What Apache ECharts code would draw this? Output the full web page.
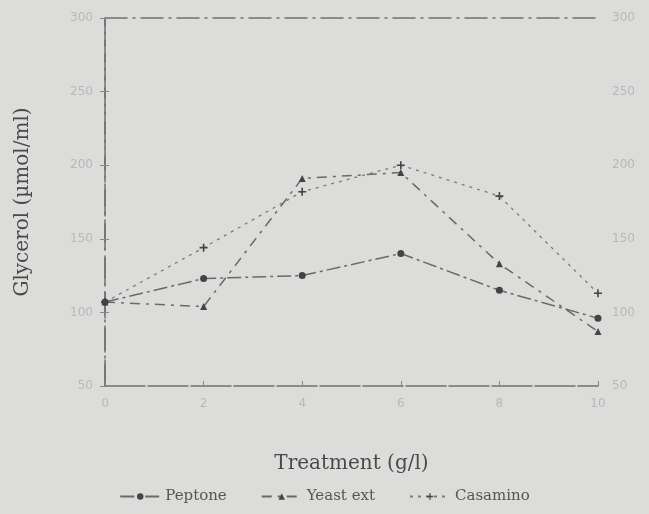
<!DOCTYPE html>
<html>
<head>
<meta charset="utf-8">
<script src="https://cdn.jsdelivr.net/npm/echarts@6/dist/echarts.min.js"></script>
<style>
  html, body { margin: 0; padding: 0; background: #dcdcdb; }
  #chart { width: 649px; height: 514px; }
</style>
</head>
<body>
<div id="chart"></div>
<script>
const treatment = [0, 2, 4, 6, 8, 10]
const peptone = [107, 123, 125, 140, 115, 96]
const yeastExt = [107, 104, 191, 195, 133, 87]
const casamino = [107, 144, 182, 200, 179, 113]

const plusIcon = 'path://M4,0H6V4H10V6H6V10H4V6H0V4H4Z'
const pairs = arr => arr.map((v, i) => [treatment[i], v])

const chart = echarts.init(document.getElementById('chart'))

const axisText = { color: '#b8b8b8', fontSize: 12, fontFamily: 'DejaVu Sans' }
const frameLine = { color: '#707070', width: 1.5, type: [22, 6, 2, 6] }
const titleText = { color: '#4a4a4a', fontSize: 20, fontFamily: 'DejaVu Serif' }

chart.setOption({
  backgroundColor: '#dcdcdb',
  animation: false,
  grid: { left: 105, right: 51, top: 18, bottom: 128 },
  legend: {
    bottom: 5,
    left: 'center',
    itemWidth: 40,
    itemHeight: 8,
    itemGap: 34,
    textStyle: { color: '#555', fontSize: 15, fontFamily: 'DejaVu Serif' },
    data: ['Peptone', 'Yeast ext', 'Casamino'],
  },
  xAxis: [
    {
      type: 'value',
      min: 0,
      max: 10,
      interval: 2,
      name: 'Treatment (g/l)',
      nameLocation: 'middle',
      nameGap: 68,
      nameTextStyle: titleText,
      axisLine: { show: true, lineStyle: { color: '#707070', width: 1.5, type: [40, 3] } },
      axisTick: { show: true, inside: true, length: 5, lineStyle: { color: '#888' } },
      axisLabel: Object.assign({ margin: 12 }, axisText),
      splitLine: { show: false },
    },
    {
      type: 'value',
      min: 0,
      max: 10,
      position: 'top',
      axisLine: { show: true, lineStyle: frameLine },
      axisTick: { show: false },
      axisLabel: { show: false },
      splitLine: { show: false },
    },
  ],
  yAxis: [
    {
      type: 'value',
      min: 50,
      max: 300,
      interval: 50,
      name: 'Glycerol (\u00b5mol/ml)',
      nameLocation: 'middle',
      nameGap: 72,
      nameRotate: 90,
      nameTextStyle: titleText,
      axisLine: { show: true, lineStyle: { color: '#707070', width: 1.5, type: [26, 8] } },
      axisTick: { show: true, inside: true, length: 4, lineStyle: { color: '#888' } },
      axisLabel: Object.assign({ margin: 12 }, axisText),
      splitLine: { show: false },
    },
    {
      type: 'value',
      min: 50,
      max: 300,
      interval: 50,
      position: 'right',
      axisLine: { show: true, lineStyle: frameLine },
      axisTick: { show: true, inside: true, length: 5, lineStyle: { color: '#888' } },
      axisLabel: Object.assign({ margin: 14 }, axisText),
      splitLine: { show: false },
    },
  ],
  series: [
    {
      name: 'Peptone',
      type: 'line',
      data: pairs(peptone),
      symbol: 'circle',
      symbolSize: 7,
      itemStyle: { color: '#444' },
      lineStyle: { color: '#6a6a6a', width: 1.5, type: [14, 4, 3, 4] },
    },
    {
      name: 'Yeast ext',
      type: 'line',
      data: pairs(yeastExt),
      symbol: 'triangle',
      symbolSize: 7,
      itemStyle: { color: '#444' },
      lineStyle: { color: '#6a6a6a', width: 1.5, type: [10, 6, 3, 6] },
    },
    {
      name: 'Casamino',
      type: 'line',
      data: pairs(casamino),
      symbol: plusIcon,
      symbolSize: 8,
      itemStyle: { color: '#444' },
      lineStyle: { color: '#7a7a7a', width: 1.3, type: [3, 5] },
    },
  ],
})
</script>
</body>
</html>
